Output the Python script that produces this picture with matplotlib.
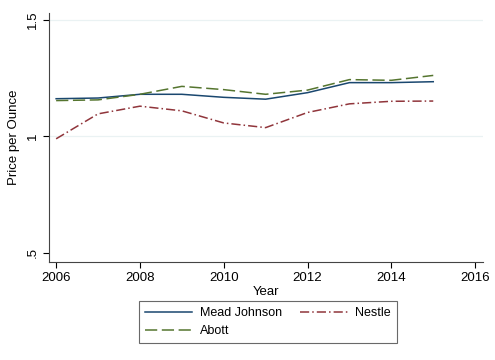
import matplotlib
matplotlib.use("Agg")
import matplotlib.pyplot as plt
from matplotlib.ticker import FixedLocator

plt.rcParams["font.family"] = ["Liberation Sans", "DejaVu Sans"]

years = [2006, 2007, 2008, 2009, 2010, 2011, 2012, 2013, 2014, 2015]
mead_johnson = [1.162, 1.165, 1.181, 1.181, 1.168, 1.160, 1.188, 1.231, 1.231, 1.235]
nestle = [0.990, 1.097, 1.130, 1.110, 1.058, 1.038, 1.103, 1.140, 1.151, 1.152]
abott = [1.154, 1.157, 1.181, 1.215, 1.201, 1.181, 1.199, 1.244, 1.241, 1.262]

x_ticks = [2006, 2008, 2010, 2012, 2014, 2016]
y_ticks = [0.5, 1.0, 1.5]
y_tick_labels = [".5", "1", "1.5"]

fig = plt.figure(figsize=(4.95, 3.6), dpi=100)
ax = fig.add_axes([0.099, 0.272, 0.877, 0.692])

for y in [1.0, 1.5]:
    ax.axhline(y, color="#eaf2f3", lw=0.9, zorder=0)

ax.plot(years, mead_johnson, color="#1a476f", lw=1.1, label="Mead Johnson")
ax.plot(years, nestle, color="#90353b", lw=1.1, dashes=(6, 2, 1, 2), label="Nestle")
ax.plot(years, abott, color="#55752f", lw=1.1, dashes=(8, 3), label="Abott")

ax.set_xlim(2005.83, 2016.19)
ax.set_ylim(0.461, 1.53)
ax.xaxis.set_major_locator(FixedLocator(x_ticks))
ax.set_yticks(y_ticks)
ax.set_yticklabels(y_tick_labels, rotation=90, va="center")
ax.tick_params(labelsize=9.5, length=4, width=0.8, color="black")
ax.set_xlabel("Year", fontsize=9.5, labelpad=1)
ax.set_ylabel("Price per Ounce", fontsize=9.5)
ax.yaxis.set_label_coords(-0.067, 0.5)

for side in ["top", "right"]:
    ax.spines[side].set_visible(False)
for side in ["left", "bottom"]:
    ax.spines[side].set_linewidth(0.8)
    ax.spines[side].set_color("#444444")

handles, labels = ax.get_legend_handles_labels()
order = [0, 2, 1]
leg = fig.legend([handles[i] for i in order], [labels[i] for i in order],
                 ncol=2, loc="upper center", bbox_to_anchor=(0.541, 0.163),
                 fontsize=9, frameon=True, fancybox=False,
                 handlelength=3.8, columnspacing=1.5, borderpad=0.45,
                 labelspacing=0.5, handletextpad=0.6, borderaxespad=0)
leg.get_frame().set_edgecolor("#444444")
leg.get_frame().set_linewidth(0.8)

fig.savefig("out.png", dpi=100)
